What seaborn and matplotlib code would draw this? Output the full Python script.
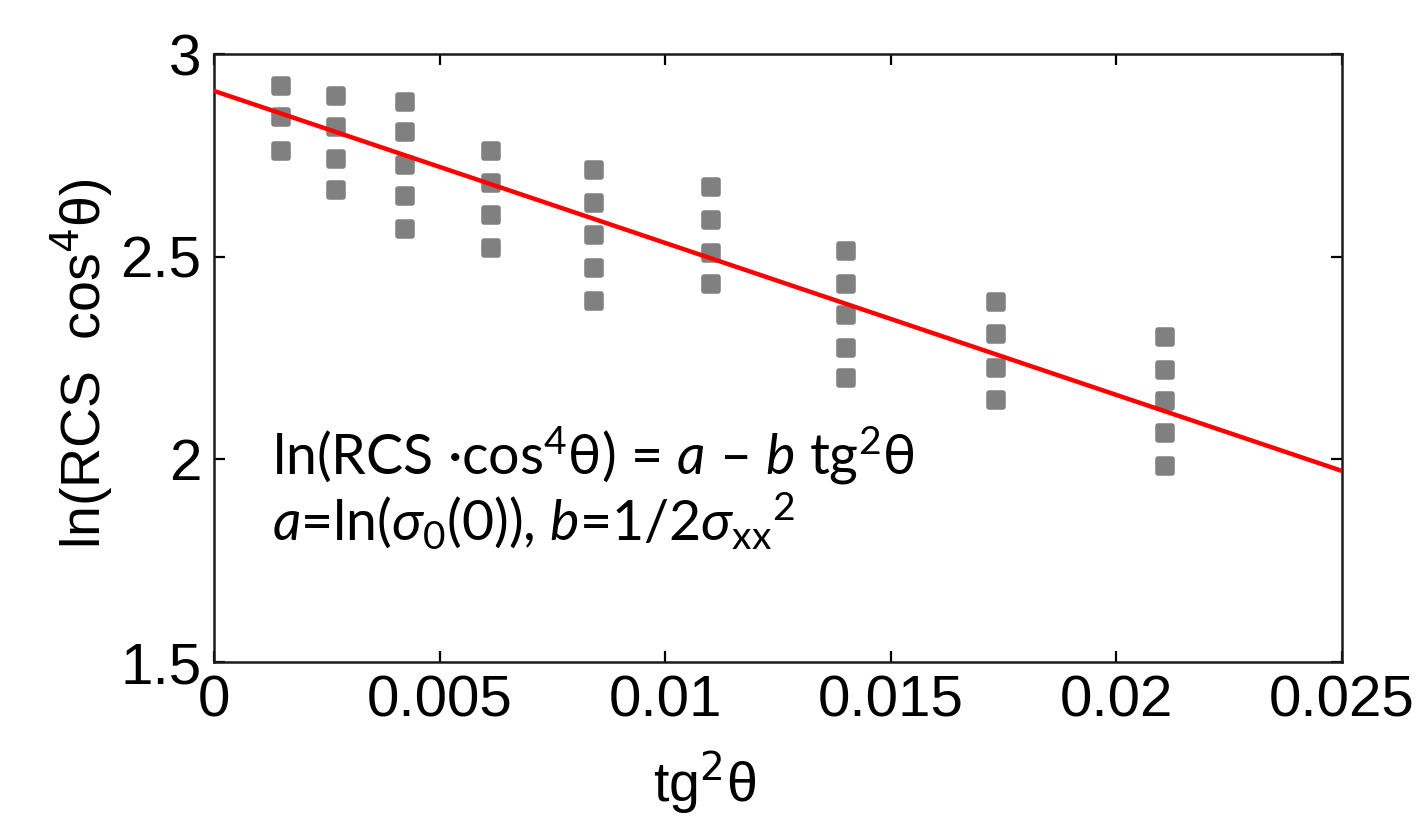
import numpy as np
import pandas as pd
import matplotlib
matplotlib.use('Agg')
import matplotlib.pyplot as plt
import seaborn as sns

# tg^2(theta) of each measurement column
tg2 = [0.00148, 0.0027, 0.00423, 0.00615, 0.00842, 0.01101, 0.01401, 0.01733, 0.02108]

# ln(RCS cos^4 theta) values, one list per column
col_1 = [2.922, 2.845, 2.761]
col_2 = [2.897, 2.819, 2.740, 2.664]
col_3 = [2.882, 2.808, 2.726, 2.650, 2.568]
col_4 = [2.761, 2.681, 2.603, 2.521]
col_5 = [2.713, 2.632, 2.554, 2.472, 2.391]
col_6 = [2.673, 2.590, 2.508, 2.433]
col_7 = [2.515, 2.433, 2.356, 2.274, 2.200]
col_8 = [2.387, 2.309, 2.226, 2.146]
col_9 = [2.302, 2.220, 2.144, 2.064, 1.984]

# fitted line ln(RCS cos^4) = a - b tg^2
a_fit = 2.909
b_fit = 37.5
line_x = [0.0, 0.025]

xticks = [0, 0.005, 0.01, 0.015, 0.02, 0.025]
xticklabels = ['0', '0.005', '0.01', '0.015', '0.02', '0.025']
yticks = [1.5, 2, 2.5, 3]
yticklabels = ['1.5', '2', '2.5', '3']

cols = [col_1, col_2, col_3, col_4, col_5, col_6, col_7, col_8, col_9]
rows = []
for x, vals in zip(tg2, cols):
    for v in vals:
        rows.append({'tg2': x, 'lnrcs': v})
df = pd.DataFrame(rows)

line_df = pd.DataFrame({'tg2': line_x,
                        'fit': [a_fit - b_fit * x for x in line_x]})

sns.set_style('ticks')
plt.rcParams['font.family'] = ['Liberation Sans', 'DejaVu Sans']
plt.rcParams['mathtext.fontset'] = 'custom'
plt.rcParams['mathtext.rm'] = 'Lato'
plt.rcParams['mathtext.it'] = 'Lato:italic'
plt.rcParams['text.color'] = 'black'
plt.rcParams['axes.labelcolor'] = 'black'

fig = plt.figure(figsize=(14.22, 8.16), dpi=100)
ax = fig.add_axes([0.1505, 0.1887, 0.7932, 0.7451])

sns.scatterplot(data=df, x='tg2', y='lnrcs', ax=ax, marker='s', s=90,
                color='#808080', edgecolor='#808080', linewidth=4, zorder=2)
# rounded corners like the original markers
ax.collections[0].set_joinstyle('round')
sns.lineplot(data=line_df, x='tg2', y='fit', ax=ax, color='red', lw=3.2, zorder=3)

ax.set_xlim(0, 0.025)
ax.set_ylim(1.5, 3)
ax.set_xticks(xticks)
ax.set_xticklabels(xticklabels)
ax.set_yticks(yticks)
ax.set_yticklabels(yticklabels)
ax.tick_params(direction='in', length=8, width=1.6, labelsize=42,
               top=True, right=True, pad=9, color='black', labelcolor='black')
for sp in ax.spines.values():
    sp.set_linewidth(1.8)
    sp.set_color('#1a1a1a')

ax.set_xlabel(r'tg$^2$θ', fontsize=40, math_fontfamily='dejavusans')
ax.set_ylabel(r'ln(RCS  cos$^4$θ)', fontsize=40, math_fontfamily='dejavusans')
ax.xaxis.set_label_coords(0.435, -0.145)
ax.yaxis.set_label_coords(-0.088, 0.49)

ax.text(0.0514, 0.3076, r'ln(RCS ·cos$^4$θ) = $a$ – $b$ tg$^2$θ',
        transform=ax.transAxes, fontsize=40, family='Lato', va='baseline')
ax.text(0.0514, 0.2007, r'$a$=ln($\sigma_0$(0)), $b$=1/2$\sigma_{\mathrm{xx}}{}^2$',
        transform=ax.transAxes, fontsize=40, family='Lato', va='baseline')

ax.set_facecolor('white')
fig.patch.set_facecolor('white')
plt.savefig('out.png', dpi=100)
